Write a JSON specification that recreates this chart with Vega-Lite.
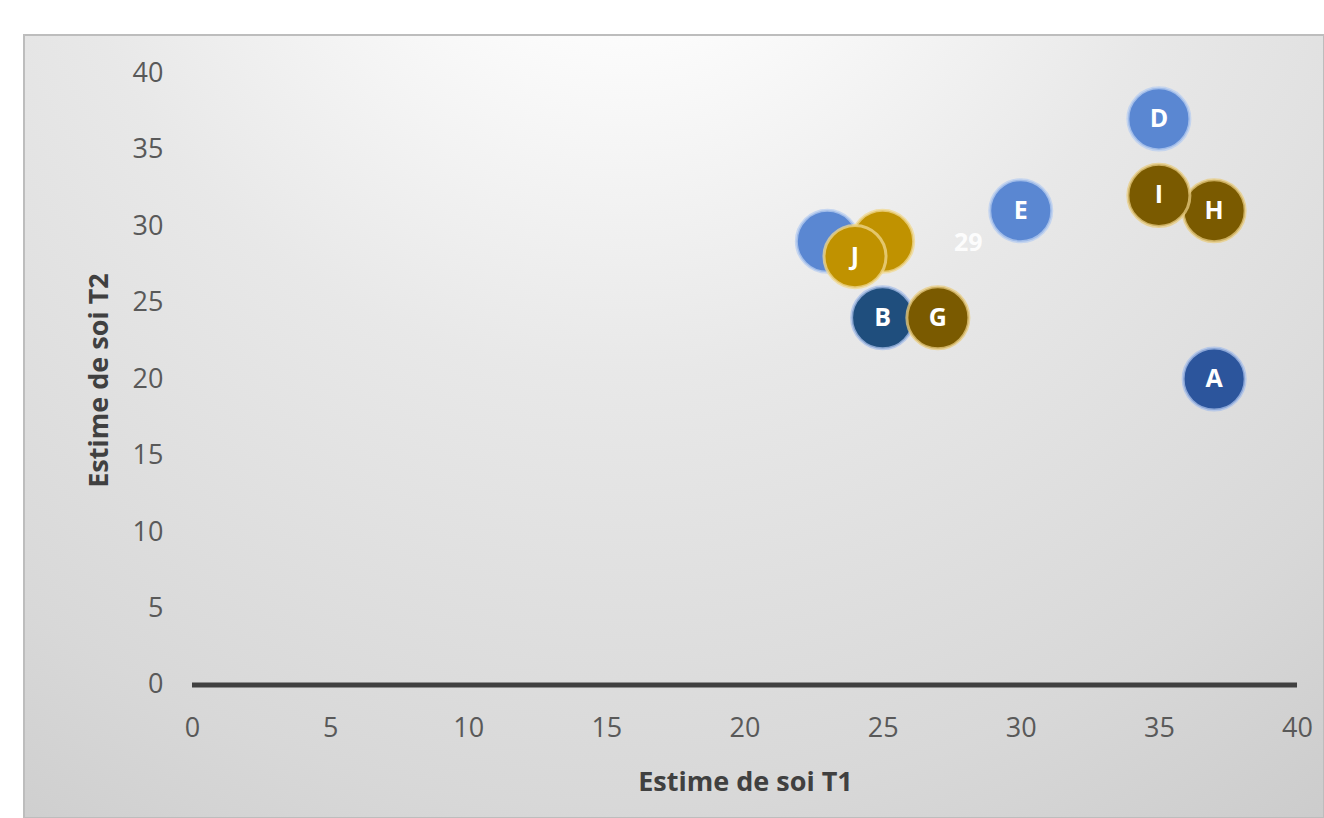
{
  "$schema": "https://vega.github.io/schema/vega-lite/v6.json",
  "width": 1300,
  "height": 783,
  "autosize": {"type": "none"},
  "padding": {"left": 24, "top": 35, "right": 0, "bottom": 0},
  "background": "#ffffff",
  "view": {
    "fill": {
      "gradient": "radial",
      "x1": 0.46, "y1": 0.02, "r1": 0,
      "x2": 0.46, "y2": 0.02, "r2": 1.1,
      "stops": [
        {"offset": 0, "color": "#ffffff"},
        {"offset": 0.12, "color": "#ffffff"},
        {"offset": 0.4, "color": "#e8e8e8"},
        {"offset": 0.7, "color": "#d8d8d8"},
        {"offset": 1, "color": "#c2c2c2"}
      ]
    },
    "stroke": "#bdbdbd",
    "strokeWidth": 2
  },
  "config": {"font": "Open Sans"},
  "data": {
    "values": [
      {"series": "A", "t1": 37, "t2": 20},
      {"series": "B", "t1": 25, "t2": 24},
      {"series": "C", "t1": 23, "t2": 29},
      {"series": "D", "t1": 35, "t2": 37},
      {"series": "E", "t1": 30, "t2": 31},
      {"series": "F", "t1": 25, "t2": 29},
      {"series": "G", "t1": 27, "t2": 24},
      {"series": "H", "t1": 37, "t2": 31},
      {"series": "I", "t1": 35, "t2": 32},
      {"series": "J", "t1": 24, "t2": 28}
    ]
  },
  "encoding": {
    "x": {
      "field": "t1",
      "type": "quantitative",
      "scale": {"domain": [-6.081, 40.977], "nice": false, "zero": false},
      "axis": {
        "title": "Estime de soi T1",
        "values": [0, 5, 10, 15, 20, 25, 30, 35, 40],
        "ticks": false,
        "domain": false,
        "grid": false,
        "offset": -111,
        "labelPadding": 8,
        "labelFont": "Open Sans",
        "labelFontSize": 27,
        "labelColor": "#595959",
        "labelFlush": false,
        "labelOverlap": false,
        "titleFont": "Open Sans",
        "titleFontSize": 27,
        "titleFontWeight": "bold",
        "titleColor": "#404040",
        "titleX": 721,
        "titleY": 83,
        "titleBaseline": "alphabetic",
        "titleAlign": "center"
      }
    },
    "y": {
      "field": "t2",
      "type": "quantitative",
      "scale": {"domain": [-8.693, 42.484], "nice": false, "zero": false},
      "axis": {
        "title": "Estime de soi T2",
        "values": [0, 5, 10, 15, 20, 25, 30, 35, 40],
        "ticks": false,
        "domain": false,
        "grid": false,
        "offset": -147,
        "labelPadding": 8,
        "labelFont": "Open Sans",
        "labelFontSize": 27,
        "labelColor": "#595959",
        "labelFlush": false,
        "labelOverlap": false,
        "titleFont": "Open Sans",
        "titleFontSize": 27,
        "titleFontWeight": "bold",
        "titleColor": "#404040",
        "titleX": -64,
        "titleY": 345,
        "titleBaseline": "alphabetic",
        "titleAlign": "center",
        "titleAngle": 270
      }
    }
  },
  "layer": [
    {
      "data": {"values": [{"t1": 0, "t1end": 40, "t2": 0}]},
      "mark": {"type": "rule", "stroke": "#404040", "strokeWidth": 5, "strokeCap": "butt"},
      "encoding": {
        "x2": {"field": "t1end"}
      }
    },
    {
      "mark": {"type": "point", "shape": "circle", "filled": true, "opacity": 1, "strokeWidth": 3, "strokeOpacity": 0.75},
      "encoding": {
        "size": {"value": 3850},
        "color": {
          "field": "series",
          "type": "nominal",
          "scale": {
            "domain": ["A", "B", "C", "D", "E", "F", "G", "H", "I", "J"],
            "range": ["#2c559c", "#1f4e7d", "#5a87d2", "#5a87d2", "#5a87d2", "#c09200", "#7a5a00", "#7a5a00", "#7a5a00", "#c09200"]
          },
          "legend": null
        },
        "stroke": {
          "field": "series",
          "type": "nominal",
          "scale": {
            "domain": ["A", "B", "C", "D", "E", "F", "G", "H", "I", "J"],
            "range": ["#a9c0ea", "#a9c0ea", "#b8cdf0", "#b8cdf0", "#b8cdf0", "#f0d890", "#e8cc80", "#e8cc80", "#e8cc80", "#f0d890"]
          },
          "legend": null
        }
      }
    },
    {
      "transform": [{"filter": "datum.series !== 'C' && datum.series !== 'F'"}],
      "mark": {"type": "text", "align": "center", "baseline": "middle", "fontWeight": "bold", "fontSize": 25, "font": "Open Sans", "color": "#ffffff"},
      "encoding": {
        "text": {"field": "series"}
      }
    },
    {
      "data": {"values": [{"t1": 28.1, "t2": 28.9, "label": "29"}]},
      "mark": {"type": "text", "align": "center", "baseline": "middle", "fontWeight": "bold", "fontSize": 25, "font": "Open Sans", "color": "#ffffff", "opacity": 0.9},
      "encoding": {
        "text": {"field": "label"}
      }
    }
  ]
}
